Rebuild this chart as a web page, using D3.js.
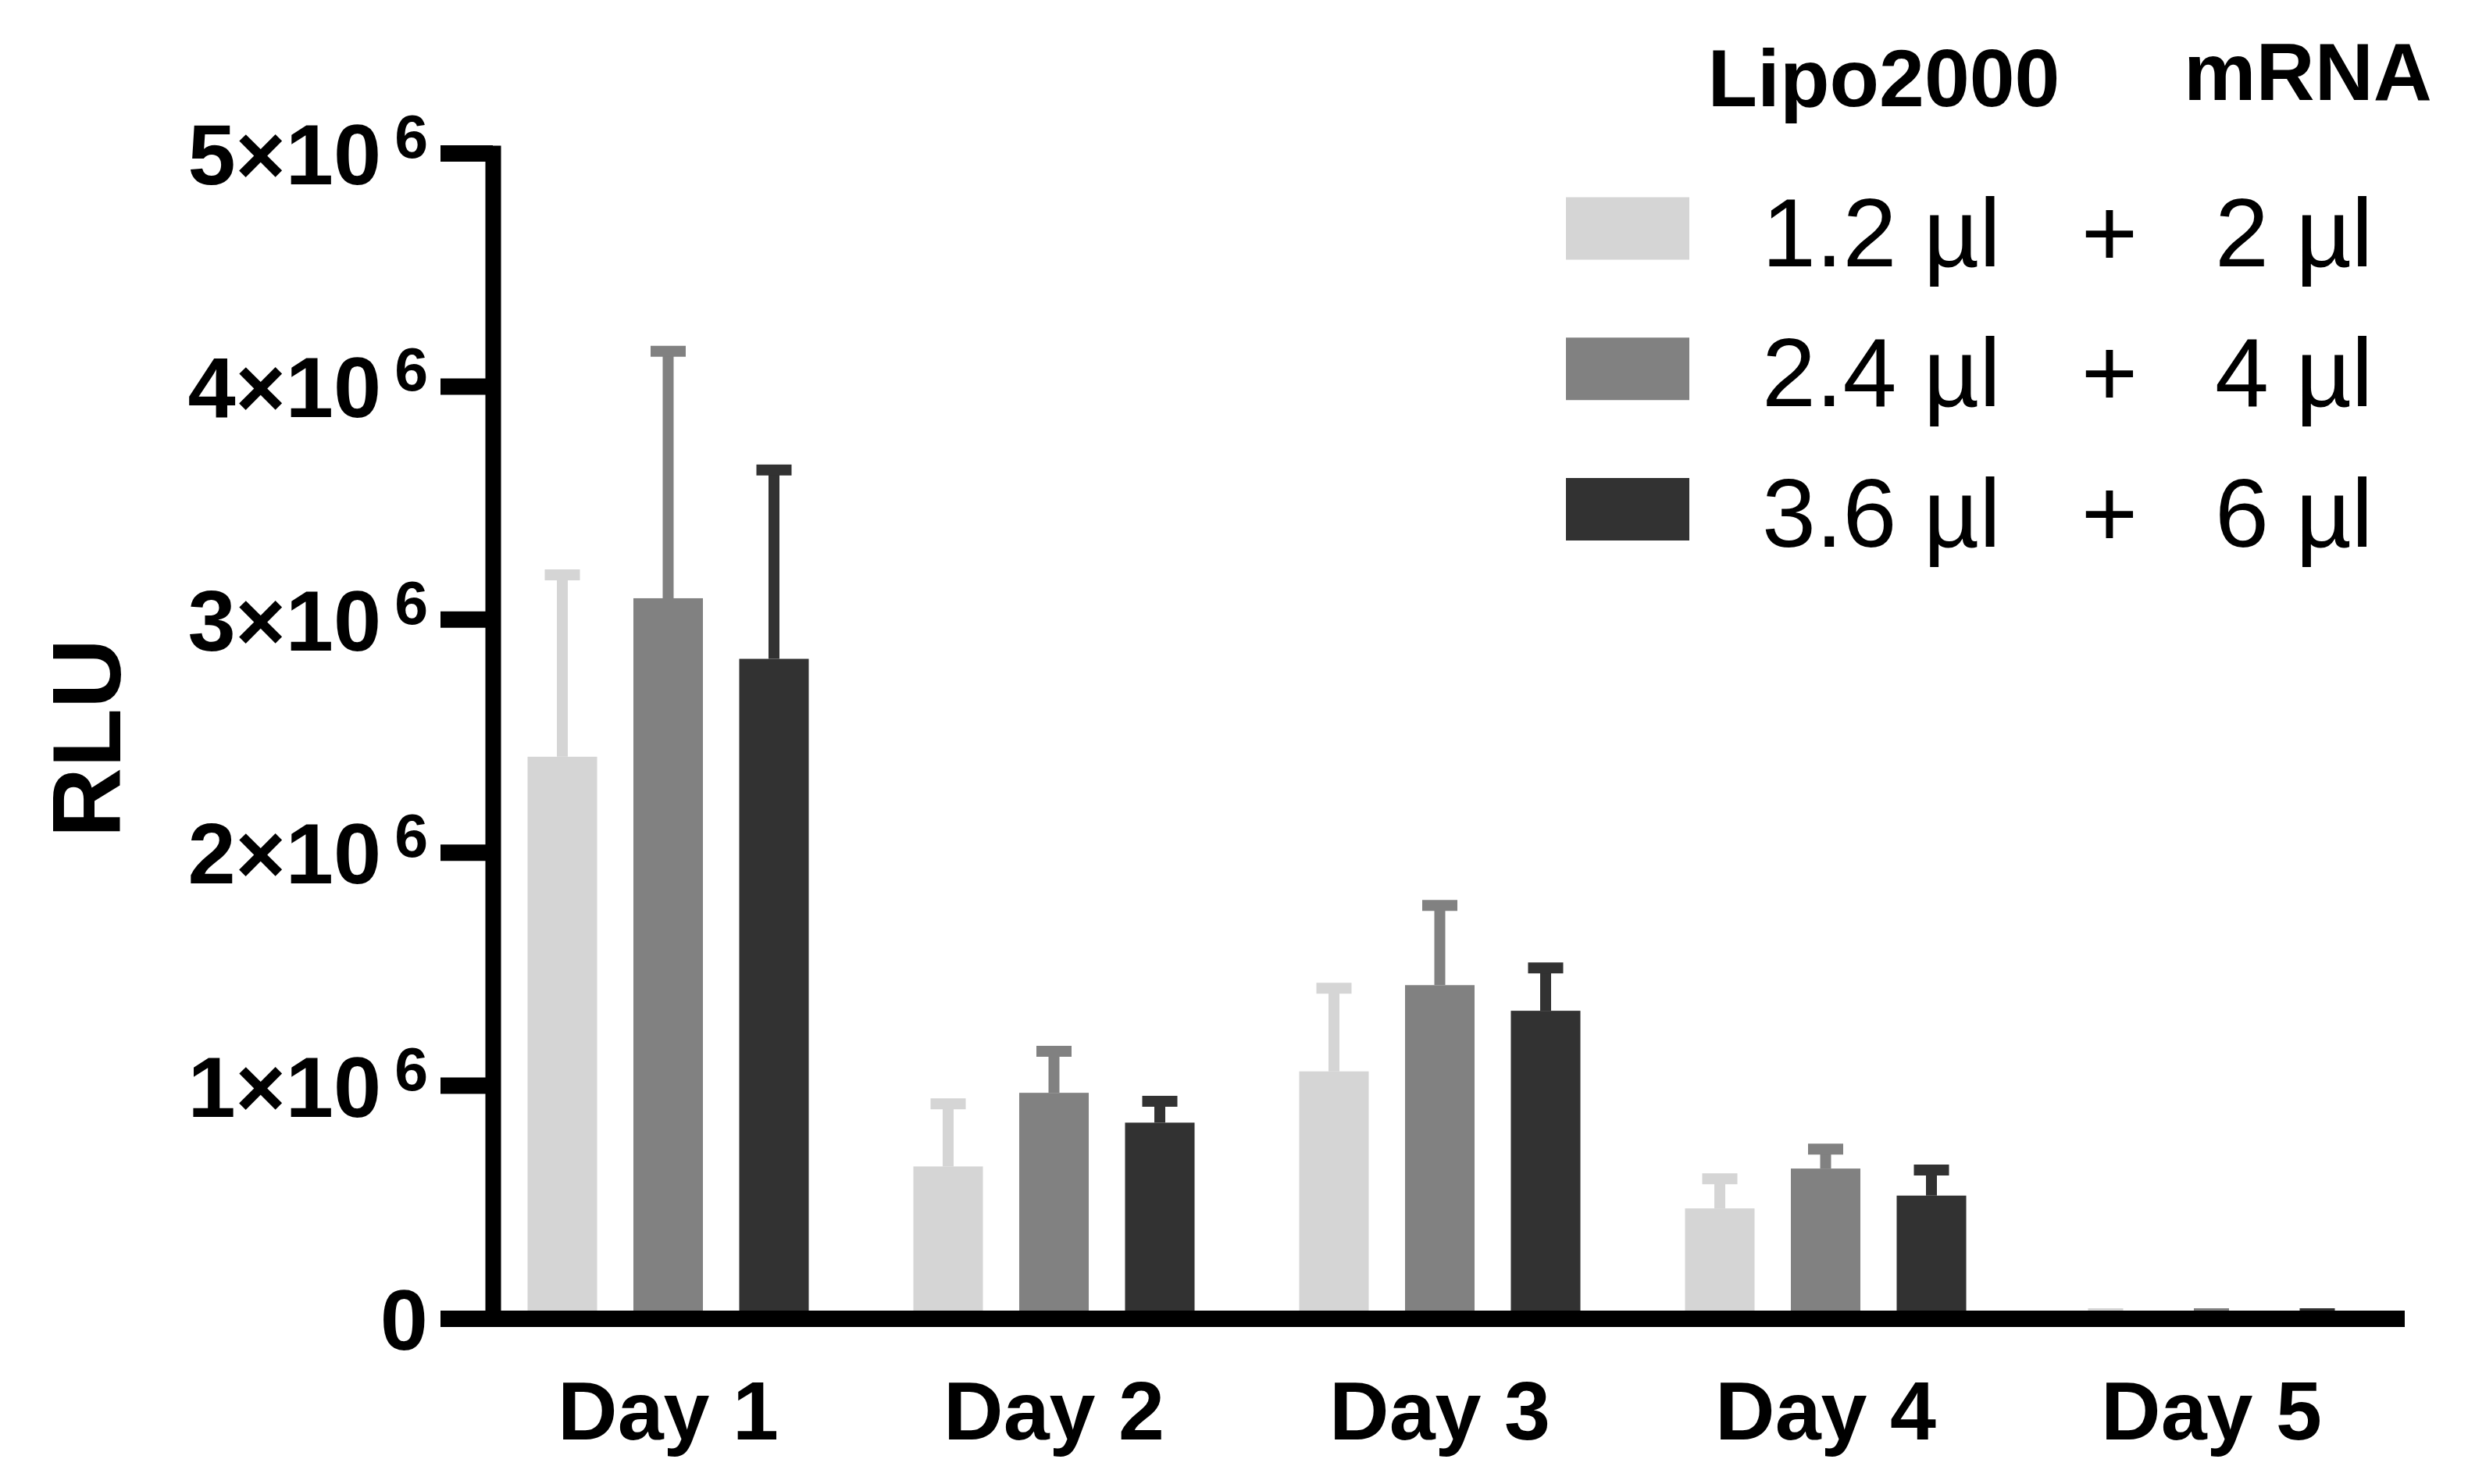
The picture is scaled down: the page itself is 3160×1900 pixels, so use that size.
<!DOCTYPE html>
<html>
<head>
<meta charset="utf-8">
<script src="https://cdn.jsdelivr.net/npm/d3@7"></script>
<style>
  body { margin: 0; background: #fff; }
  text { font-family: "Liberation Sans", Arial, sans-serif; }
</style>
</head>
<body>
<svg id="chart"></svg>
<script>
// Data (RLU, mean and upper error)
const days = ['Day 1', 'Day 2', 'Day 3', 'Day 4', 'Day 5'];
const series = ['1.2 µl + 2 µl', '2.4 µl + 4 µl', '3.6 µl + 6 µl'];
const lipoLabels = ['1.2 µl', '2.4 µl', '3.6 µl'];
const mrnaLabels = ['2 µl', '4 µl', '6 µl'];
const colors = ['#d5d5d5', '#818181', '#323232'];

const means = [
    [2.41e6, 0.652e6, 1.06e6, 0.472e6, 0.012e6],
    [3.09e6, 0.968e6, 1.43e6, 0.643e6, 0.012e6],
    [2.83e6, 0.840e6, 1.32e6, 0.527e6, 0.012e6]
];
const upper = [
    [3.19e6, 0.921e6, 1.417e6, 0.599e6, 0.02e6],
    [4.15e6, 1.146e6, 1.772e6, 0.726e6, 0.02e6],
    [3.64e6, 0.932e6, 1.504e6, 0.637e6, 0.02e6]
];
const yTicks = [0, 1e6, 2e6, 3e6, 4e6, 5e6];

const width = 3160;
const height = 1900;

let svg = d3.select('#chart')
    .attr('width', width)
    .attr('height', height);

svg.append('rect').attr('width', width).attr('height', height).attr('fill', '#fff');

// Scales
let x = d3.scaleBand().domain(days).range([608.5, 3078.5]).padding(0);
let xSub = d3.scaleBand().domain(series).range([-203.25, 203.25])
    .paddingInner(0.343).paddingOuter(0.1715);
let y = d3.scaleLinear().domain([0, 5e6]).range([1688, 196]);

// Flatten into records
let records = [];
series.forEach((s, si) => {
    days.forEach((d, di) => {
        records.push({ series: s, si: si, day: d, value: means[si][di], err: upper[si][di] });
    });
});

let groups = svg.append('g');

// Error bars (upper only)
let cx = d => x(d.day) + x.bandwidth() / 2 + xSub(d.series) + xSub.bandwidth() / 2;
groups.selectAll('.stem')
    .data(records)
    .enter()
    .append('line')
    .attr('x1', cx).attr('x2', cx)
    .attr('y1', d => y(d.value)).attr('y2', d => y(d.err))
    .attr('stroke', d => colors[d.si])
    .attr('stroke-width', 14);
groups.selectAll('.cap')
    .data(records)
    .enter()
    .append('line')
    .attr('x1', d => cx(d) - 22.5).attr('x2', d => cx(d) + 22.5)
    .attr('y1', d => y(d.err)).attr('y2', d => y(d.err))
    .attr('stroke', d => colors[d.si])
    .attr('stroke-width', 14);

// Bars
groups.selectAll('.bar')
    .data(records)
    .enter()
    .append('rect')
    .attr('x', d => x(d.day) + x.bandwidth() / 2 + xSub(d.series))
    .attr('width', xSub.bandwidth())
    .attr('y', d => y(d.value))
    .attr('height', d => y(0) - y(d.value))
    .attr('fill', d => colors[d.si]);

// X axis
let xAxis = svg.append('g')
    .attr('transform', 'translate(0,' + y(0) + ')')
    .call(d3.axisBottom(x).tickSize(0).tickSizeOuter(0));
xAxis.select('.domain').attr('stroke', '#000').attr('stroke-width', 21);
xAxis.selectAll('.tick text')
    .attr('y', 155)
    .attr('dy', 0)
    .attr('fill', '#000')
    .style('font-size', '106px')
    .style('font-weight', 'bold')
    .style('font-family', '"Liberation Sans", Arial, sans-serif');

// Y axis
let yAxis = svg.append('g')
    .attr('transform', 'translate(631,0)')
    .call(d3.axisLeft(y).tickValues(yTicks).tickSize(67).tickSizeOuter(0).tickFormat(''));
yAxis.select('.domain').attr('stroke', '#000').attr('stroke-width', 20)
    .attr('stroke-linecap', 'square');
yAxis.selectAll('.tick line').attr('stroke', '#000').attr('stroke-width', 21);
yAxis.selectAll('.tick text').remove();

// Tick labels with superscript exponents
yTicks.forEach(v => {
    let t = svg.append('text')
        .attr('x', 548)
        .attr('y', y(v) + 40)
        .attr('text-anchor', 'end')
        .style('font-size', '110px')
        .style('font-weight', 'bold');
    if (v === 0) {
        t.text('0');
    } else {
        t.append('tspan').text((v / 1e6) + '×10');
        t.append('tspan').attr('dx', 17).attr('dy', -34).style('font-size', '77px').text('6');
    }
});

// Y axis title
svg.append('text')
    .attr('transform', 'translate(154,945) rotate(-90)')
    .attr('text-anchor', 'middle')
    .style('font-size', '124px')
    .style('font-weight', 'bold')
    .text('RLU');

// Legend
let legendY = d3.scalePoint().domain(series).range([292.5, 652]);
svg.append('text')
    .attr('x', 2412).attr('y', 136)
    .attr('text-anchor', 'middle')
    .style('font-size', '104px').style('font-weight', 'bold')
    .text('Lipo2000');
svg.append('text')
    .attr('x', 2955).attr('y', 128)
    .attr('text-anchor', 'middle')
    .style('font-size', '104px').style('font-weight', 'bold')
    .text('mRNA');

let legend = svg.selectAll('.legend')
    .data(series)
    .enter()
    .append('g')
    .attr('transform', d => 'translate(0,' + legendY(d) + ')');
legend.append('rect')
    .attr('x', 2005).attr('y', -40)
    .attr('width', 158).attr('height', 80)
    .attr('fill', (d, i) => colors[i]);
legend.append('text')
    .attr('x', 2256).attr('y', 48)
    .style('font-size', '124px')
    .text((d, i) => lipoLabels[i]);
legend.append('text')
    .attr('x', 2701).attr('y', 48)
    .attr('text-anchor', 'middle')
    .style('font-size', '124px')
    .text('+');
legend.append('text')
    .attr('x', 2836).attr('y', 48)
    .style('font-size', '124px')
    .text((d, i) => mrnaLabels[i]);
</script>
</body>
</html>
